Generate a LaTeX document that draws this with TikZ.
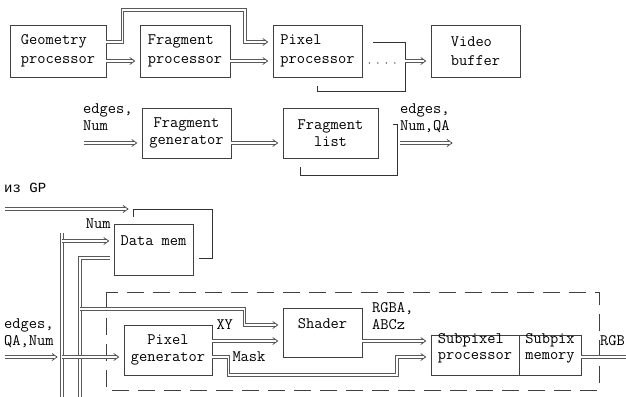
\documentclass[tikz,border=0pt]{standalone}
\usepackage{fontspec}
\newfontfamily\cyrmono{Liberation Mono}
\usetikzlibrary{decorations.markings}

\tikzset{
  unit/.style={draw=black!75, line width=0.6pt, inner sep=0pt},
  toprow/.style={unit, align=left, minimum height=52pt, font=\ttfamily\fontsize{16}{19}\selectfont},
  lbl/.style={align=left, inner sep=0pt},
  bus/.style={draw=black!65, line width=1pt, double, double distance=1.5pt},
  chevron/.style={draw=black!75, line width=0.7pt, shorten >=0pt, shorten <=0pt},
  feed/.style={bus, shorten >=8pt, postaction={decorate},
    decoration={markings, mark=at position 1 with {\draw[chevron] (-10pt,3.5pt) -- (-5pt,0pt) -- (-10pt,-3.5pt);}}},
  wire/.style={draw=black!80, line width=0.6pt},
  dots/.style={draw=black!80, line width=1.5pt, line cap=round, dash pattern=on 0pt off 8.5pt},
  frame/.style={draw=black!75, line width=0.6pt, dash pattern=on 17pt off 9pt}
}

\begin{document}
\begin{tikzpicture}[x=1pt, y=-1pt, font=\ttfamily\fontsize{16}{17}\selectfont]
  \fill[white] (0,0) rectangle (626,396);
  \useasboundingbox (0,0) rectangle (626,396);

  % top row: the processors
  \node[toprow, minimum width=96pt] (geo) at (58,51) {Geometry\\processor};
  \node[toprow, minimum width=90pt] (frag) at (185,51) {Fragment\\processor};
  \node[toprow, minimum width=89pt] (pix) at (317.5,51) {Pixel\\processor};
  \node[toprow, minimum width=89pt] (video) at (475.5,51) {Video\\buffer};

  \draw[feed] ([yshift=-10pt]geo.east) -- ([yshift=-10pt]frag.west);
  \draw[feed] ([yshift=-10pt]frag.east) -- ([yshift=-10pt]pix.west);
  \draw[feed] ([yshift=9pt]geo.east) -- ++(16,0) |- (245,10) |- ([yshift=9pt]pix.west);
  \draw[dots] ([xshift=7pt,yshift=-12pt]pix.east) -- ++(27,0);
  \coordinate (ploop) at (405,61);
  \draw[wire] ([yshift=-9pt]pix.south) -- ++(0,5) -| (405,42) -- (373,42);
  \draw[feed] (ploop) -- ([yshift=-10pt]video.west);

  % fragment generator and list
  \node[unit, align=center, minimum width=89pt, minimum height=50pt] (fgen) at (186.5,133) {Fragment\\generator};
  \node[unit, align=center, minimum width=95pt, minimum height=50pt] (flist) at (330.5,133) {Fragment\\list};
  \node[lbl, anchor=west] (fgenlbl) at (83,117.5) {edges,\\Num};
  \node[lbl, anchor=west] (flistlbl) at (400,118) {edges,\\Num,QA};
  \coordinate (fgsrc) at (84,143);
  \coordinate (flsink) at (457,143);

  \draw[feed] (fgsrc) -- (fgsrc -| fgen.west);
  \draw[feed] ([yshift=-10pt]fgen.east) -- ([yshift=-10pt]flist.west);
  \draw[wire] (300,167) -- (300,175) -| (397,124) -- (393,124);
  \draw[feed] (400,143) -- (flsink);

  % pixel processor, inside
  \draw[frame] (106,292) rectangle (599,390);

  \node[lbl, anchor=west, font=\cyrmono\fontsize{14}{17}\selectfont] (gp) at (4,188) {из GP};
  \coordinate (gpin) at (5,209);
  \coordinate (gpend) at (133,209);
  \draw[feed] (gpin) -- (gpend);

  \node[unit, align=left, minimum width=79pt, minimum height=51pt] (dmem) at (153.5,249.5) {Data mem\\\mbox{}};
  \node[lbl, anchor=east] (numlbl) at ([xshift=-3pt]dmem.north west) {Num};
  \draw[wire] (133,217) |- (212,209) |- ([xshift=6pt,yshift=-8.5pt]dmem.east);

  \node[unit, align=center, minimum width=88pt, minimum height=50pt] (pgen) at (168,350) {Pixel\\generator};
  \node[unit, align=center, minimum width=79pt, minimum height=49pt] (shader) at (322.5,332.5) {Shader\\\mbox{}};
  \node[unit, minimum width=88pt, minimum height=40pt] (subp) at (475,355)
    {\raisebox{2pt}[0pt][0pt]{\fontsize{16}{16}\selectfont\begin{tabular}{@{}l@{}}Subpixel\\processor\end{tabular}}};
  \node[unit, minimum width=62pt, minimum height=40pt] (smem) at (550,355)
    {\raisebox{2pt}[0pt][0pt]{\fontsize{16}{16}\selectfont\begin{tabular}{@{}l@{}}Subpix\\memory\end{tabular}}};

  % the two buses
  \coordinate (lbus) at (62,233);
  \coordinate (lbusend) at (62,400);
  \coordinate (rbusend) at (80,400);
  \draw[bus] (lbus) -- (lbusend);
  \draw[bus] ([xshift=-4pt,yshift=-8.5pt]dmem.west) -| (rbusend);

  \coordinate (dmin) at ([yshift=8.5pt]dmem.west);
  \draw[feed] (lbus |- dmin) -- (dmin);
  \coordinate (shin) at ([yshift=7.5pt]shader.west);
  \draw[feed] (80,309) -| ([xshift=-38pt]shin) -- (shin);

  \node[lbl, anchor=west] (pgsrc) at (4,333) {edges,\\QA,Num};
  \coordinate (pgin) at ([yshift=-7pt]pgen.west);
  \draw[feed] (5,357) -- (lbus |- pgin);
  \draw[feed] (lbus |- pgin) -- (pgin);

  \coordinate (xy) at ([yshift=9pt]pgen.east);
  \coordinate (mk) at ([yshift=-7pt]pgen.east);
  \coordinate (sh) at ([yshift=-8.5pt]shader.east);
  \node[lbl, anchor=west] (xylbl) at ([xshift=4pt,yshift=16pt]xy) {XY};
  \node[lbl, anchor=west] (masklbl) at ([xshift=20pt]mk) {Mask};
  \node[lbl, anchor=west] (rgbalbl) at (372,316.5) {RGBA,\\ABCz};
  \draw[feed] (xy) -- (xy -| shader.west);
  \draw[feed] (mk) -- ++(16,0) |- (397,375) |- (mk -| subp.west);
  \draw[feed] (sh) -- (sh -| subp.west);

  \coordinate (rgbout) at (630,357);
  \node[lbl, anchor=east] (rgblbl) at (625,341) {RGB};
  \draw[bus] ([yshift=-2pt]smem.east) -- (rgbout);
\end{tikzpicture}
\end{document}
